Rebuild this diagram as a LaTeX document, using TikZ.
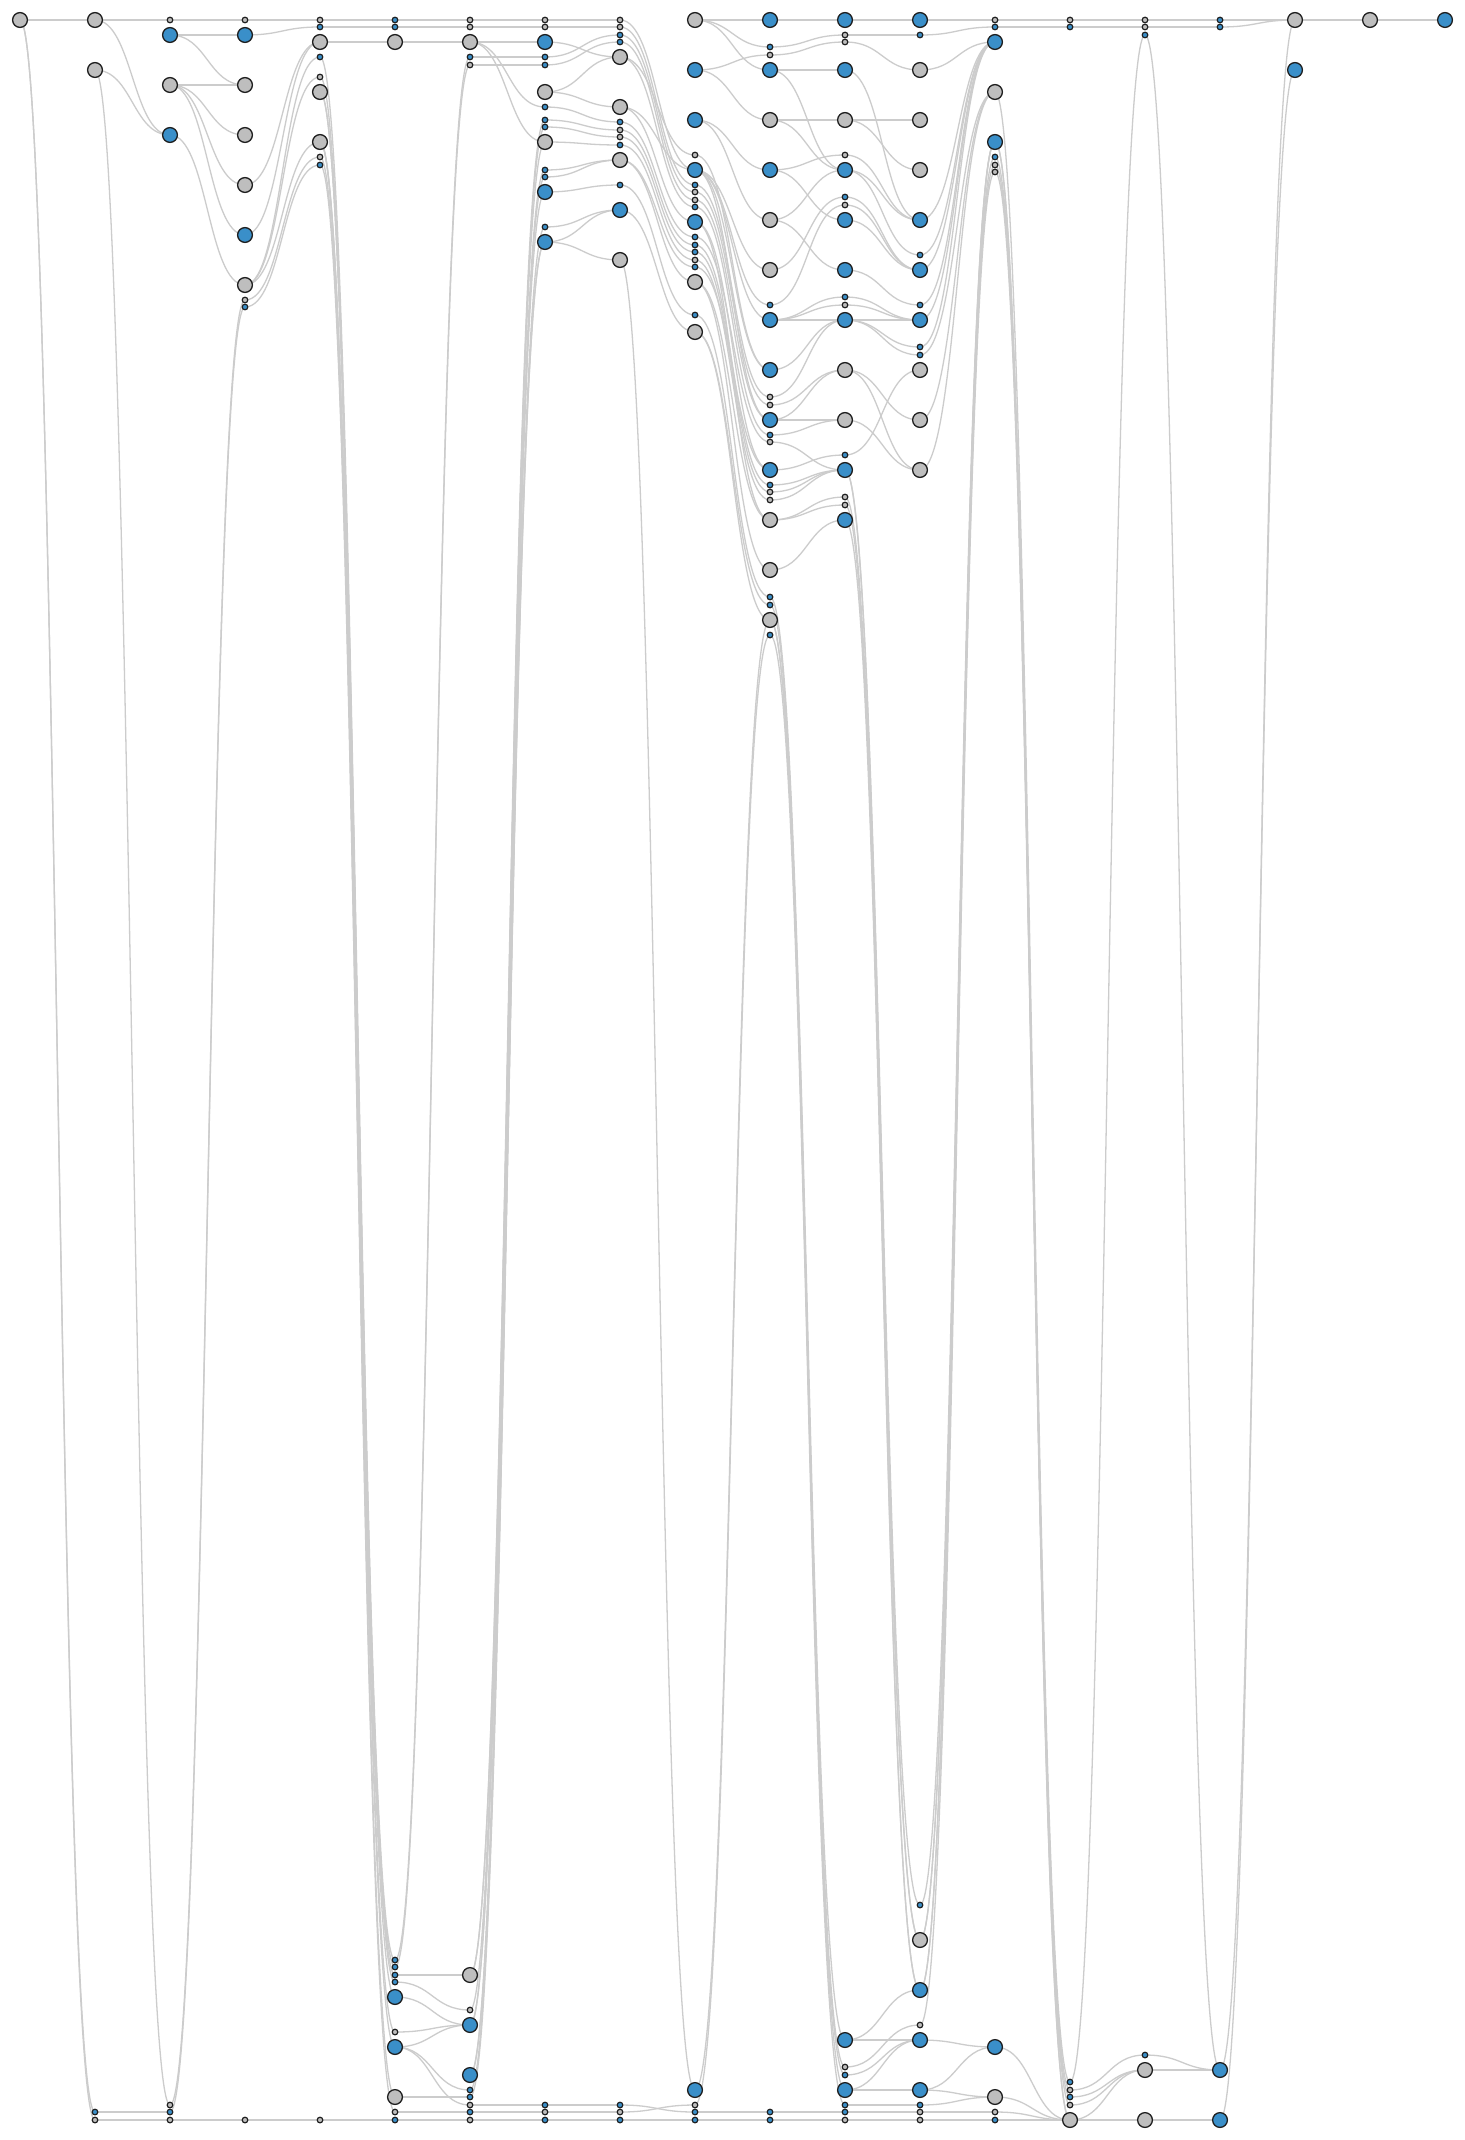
\documentclass[tikz,border=0pt]{standalone}
\usepackage{tikz}
\usetikzlibrary{backgrounds}
\definecolor{nodeblue}{HTML}{3A8FC9}
\definecolor{nodegrey}{HTML}{BEBEBE}
\definecolor{rim}{HTML}{1E1E1E}
\definecolor{linkgrey}{HTML}{CCCCCC}
\tikzset{
  big/.style={circle,draw=rim,line width=0.65pt,minimum size=7.4pt,inner sep=0pt},
  dot/.style={circle,draw=rim,line width=0.6pt,minimum size=2.8pt,inner sep=0pt},
  gn/.style={big,fill=nodegrey},
  bn/.style={big,fill=nodeblue},
  gd/.style={dot,fill=nodegrey},
  bd/.style={dot,fill=nodeblue},
  link/.style={draw=linkgrey,line width=0.65pt},
}

\begin{document}
\begin{tikzpicture}[x=0.5pt,y=-0.5pt]
  \useasboundingbox (0,0) rectangle (1465,2140);
  % layers, one column each, 75 apart
  \foreach \y/\t in {20/gn}
    \node[\t] (n0-\y) at (20,\y) {};
  \foreach \y/\t in {20/gn,70/gn,2112/bd,2120/gd}
    \node[\t] (n1-\y) at (95,\y) {};
  \foreach \y/\t in {20/gd,35/bn,85/gn,135/bn,2105/gd,2112/bd,2120/gd}
    \node[\t] (n2-\y) at (170,\y) {};
  \foreach \y/\t in {20/gd,35/bn,85/gn,135/gn,185/gn,235/bn,285/gn,300/gd,307/bd,2120/gd}
    \node[\t] (n3-\y) at (245,\y) {};
  \foreach \y/\t in {20/gd,27/bd,42/gn,57/bd,77/gd,92/gn,142/gn,157/gd,165/bd,2120/gd}
    \node[\t] (n4-\y) at (320,\y) {};
  \foreach \y/\t in {20/bd,27/bd,42/gn,1960/bd,1967/bd,1975/bd,1982/bd,1997/bn,2032/gd,2047/bn,2097/gn,2112/gd,2120/bd}
    \node[\t] (n5-\y) at (395,\y) {};
  \foreach \y/\t in {20/gd,27/gd,42/gn,57/bd,65/gd,1975/gn,2010/gd,2025/bn,2075/bn,2090/bd,2097/bd,2105/gd,2112/bd,2120/gd}
    \node[\t] (n6-\y) at (470,\y) {};
  \foreach \y/\t in {20/gd,27/gd,42/bn,57/bd,65/bd,92/gn,107/bd,120/bd,127/bd,142/gn,170/bd,177/bd,192/bn,227/bd,242/bn,2105/bd,2112/gd,2120/bd}
    \node[\t] (n7-\y) at (545,\y) {};
  \foreach \y/\t in {20/gd,27/gd,35/bd,42/bd,57/gn,107/gn,122/bd,130/gd,137/gd,145/bd,160/gn,185/bd,210/bn,260/gn,2105/bd,2112/gd,2120/bd}
    \node[\t] (n8-\y) at (620,\y) {};
  \foreach \y/\t in {20/gn,70/bn,120/bn,155/gd,170/bn,185/bd,192/gd,200/gd,207/bd,222/bn,237/bd,245/bd,252/bd,260/gd,267/bd,282/gn,315/bd,332/gn,2090/bn,2105/gd,2112/bd,2120/bd}
    \node[\t] (n9-\y) at (695,\y) {};
  \foreach \y/\t in {20/bn,47/bd,55/gd,70/bn,120/gn,170/bn,220/gn,270/gn,305/bd,320/bn,370/bn,397/gd,405/gd,420/bn,435/bd,442/gd,470/bn,485/bd,492/gd,500/gd,520/gn,570/gn,597/bd,605/bd,620/gn,635/bd,2112/bd,2120/bd}
    \node[\t] (n10-\y) at (770,\y) {};
  \foreach \y/\t in {20/bn,35/gd,42/gd,70/bn,120/gn,155/gd,170/bn,197/bd,205/gd,220/bn,270/bn,297/bd,305/gd,320/bn,370/gn,420/gn,455/bd,470/bn,497/gd,505/gd,520/bn,2040/bn,2067/gd,2075/bd,2090/bn,2105/bd,2112/bd,2120/gd}
    \node[\t] (n11-\y) at (845,\y) {};
  \foreach \y/\t in {20/bn,35/bd,70/gn,120/gn,170/gn,220/bn,255/bd,270/bn,305/bd,320/bn,347/bd,355/bd,370/gn,420/gn,470/gn,1905/bd,1940/gn,1990/bn,2025/gd,2040/bn,2090/bn,2105/bd,2112/gd,2120/gd}
    \node[\t] (n12-\y) at (920,\y) {};
  \foreach \y/\t in {20/gd,27/bd,42/bn,92/gn,142/bn,157/bd,165/gd,172/gd,2047/bn,2097/gn,2112/gd,2120/bd}
    \node[\t] (n13-\y) at (995,\y) {};
  \foreach \y/\t in {20/gd,27/bd,2082/bd,2090/gd,2097/bd,2105/gd,2120/gn}
    \node[\t] (n14-\y) at (1070,\y) {};
  \foreach \y/\t in {20/gd,27/gd,35/bd,2055/bd,2070/gn,2120/gn}
    \node[\t] (n15-\y) at (1145,\y) {};
  \foreach \y/\t in {20/bd,27/bd,2070/bn,2120/bn}
    \node[\t] (n16-\y) at (1220,\y) {};
  \node[gn] (n17-20) at (1295,20) {};
  \node[bn] (n17-70) at (1295,70) {};
  \node[gn] (n18-20) at (1370,20) {};
  \node[bn] (n19-20) at (1445,20) {};

  \begin{scope}[on background layer]
    \fill[white] (0,0) rectangle (1465,2140);
    \foreach \a/\b in {
      0-20/1-20,0-20/1-2112,0-20/1-2120,
      1-20/2-20,1-20/2-135,1-70/2-135,1-70/2-2105,1-2112/2-2112,1-2120/2-2120,
      2-20/3-20,2-35/3-35,2-35/3-85,2-85/3-85,2-85/3-135,2-85/3-185,2-85/3-235,2-135/3-285,
      2-2105/3-300,2-2112/3-307,2-2120/3-2120,
      3-20/4-20,3-35/4-27,3-185/4-42,3-235/4-42,3-285/4-57,3-285/4-77,3-285/4-142,3-300/4-157,
      3-307/4-165,3-2120/4-2120,
      4-20/5-20,4-27/5-27,4-42/5-42,4-57/5-1960,4-77/5-1967,4-92/5-1975,4-92/5-1982,4-142/5-1997,
      4-142/5-2032,4-142/5-2047,4-157/5-2097,4-165/5-2112,4-2120/5-2120,
      5-20/6-20,5-27/6-27,5-42/6-42,5-1960/6-57,5-1967/6-65,5-1975/6-1975,5-1982/6-2010,
      5-1997/6-2025,5-2032/6-2025,5-2047/6-2025,5-2047/6-2090,5-2047/6-2105,5-2097/6-2097,
      5-2112/6-2112,5-2120/6-2120,
      6-20/7-20,6-27/7-27,6-42/7-42,6-42/7-107,6-42/7-142,6-57/7-57,6-65/7-65,6-1975/7-120,
      6-1975/7-142,6-2010/7-127,6-2025/7-170,6-2025/7-192,6-2075/7-177,6-2075/7-242,6-2090/7-227,
      6-2097/7-242,6-2105/7-2105,6-2112/7-2112,6-2120/7-2120,
      7-20/8-20,7-27/8-27,7-57/8-35,7-65/8-42,7-42/8-57,7-92/8-57,7-92/8-107,7-107/8-122,
      7-120/8-130,7-127/8-137,7-142/8-145,7-170/8-160,7-177/8-160,7-192/8-185,7-227/8-210,
      7-242/8-210,7-242/8-260,7-2105/8-2105,7-2112/8-2112,7-2120/8-2120,
      8-20/9-170,8-27/9-185,8-35/9-192,8-42/9-200,8-57/9-155,8-57/9-207,8-107/9-170,8-107/9-222,
      8-122/9-237,8-130/9-245,8-137/9-252,8-145/9-260,8-160/9-267,8-160/9-282,8-185/9-315,
      8-210/9-332,8-260/9-2090,8-2105/9-2112,8-2112/9-2105,8-2120/9-2120,
      9-20/10-20,9-20/10-47,9-20/10-70,9-70/10-55,9-70/10-120,9-120/10-170,9-120/10-220,
      9-170/10-270,9-170/10-305,9-170/10-320,9-170/10-370,9-170/10-420,9-155/10-370,
      9-185/10-397,9-192/10-405,9-200/10-420,9-207/10-435,9-222/10-470,9-222/10-520,
      9-237/10-442,9-245/10-485,9-252/10-492,9-260/10-500,9-267/10-470,9-282/10-520,
      9-282/10-570,9-315/10-597,9-332/10-605,9-332/10-620,9-2090/10-620,9-2105/10-635,
      9-2112/10-2112,9-2120/10-2120,
      10-20/11-20,10-47/11-35,10-55/11-42,10-70/11-70,10-70/11-170,10-120/11-120,10-120/11-170,
      10-170/11-155,10-170/11-220,10-220/11-170,10-220/11-270,10-270/11-197,10-305/11-205,
      10-320/11-297,10-320/11-305,10-320/11-320,10-370/11-320,10-397/11-320,10-405/11-370,
      10-420/11-370,10-420/11-420,10-435/11-420,10-442/11-470,10-470/11-455,10-485/11-470,
      10-492/11-470,10-500/11-470,10-520/11-497,10-520/11-505,10-570/11-520,10-597/11-2040,
      10-605/11-2067,10-620/11-2075,10-620/11-2090,10-635/11-2105,10-2112/11-2112,10-2120/11-2120,
      11-20/12-20,11-35/12-35,11-42/12-70,11-70/12-220,11-120/12-120,11-120/12-170,11-155/12-220,
      11-170/12-220,11-170/12-255,11-197/12-270,11-205/12-270,11-220/12-270,11-270/12-305,
      11-297/12-320,11-305/12-320,11-320/12-320,11-320/12-347,11-320/12-355,11-370/12-420,
      11-370/12-470,11-420/12-470,11-455/12-370,11-470/12-1905,11-470/12-1940,11-497/12-1940,
      11-505/12-1990,11-520/12-1990,11-2040/12-1990,11-2040/12-2040,11-2067/12-2025,
      11-2075/12-2040,11-2090/12-2040,11-2090/12-2090,11-2105/12-2105,11-2112/12-2112,11-2120/12-2120,
      12-20/13-20,12-35/13-27,12-70/13-42,12-220/13-42,12-255/13-42,12-270/13-42,12-305/13-42,
      12-320/13-42,12-347/13-42,12-355/13-92,12-420/13-92,12-470/13-92,12-1905/13-142,
      12-1940/13-142,12-1940/13-157,12-1990/13-142,12-1990/13-165,12-2025/13-172,
      12-2040/13-2047,12-2090/13-2047,12-2090/13-2097,12-2105/13-2097,12-2112/13-2112,12-2120/13-2120,
      13-20/14-20,13-27/14-27,13-92/14-2082,13-142/14-2090,13-142/14-2120,13-157/14-2097,
      13-165/14-2105,13-172/14-2120,13-2047/14-2120,13-2097/14-2120,13-2112/14-2120,13-2120/14-2120,
      14-20/15-20,14-27/15-27,14-2082/15-35,14-2090/15-2055,14-2097/15-2070,14-2105/15-2070,
      14-2120/15-2070,14-2120/15-2120,
      15-20/16-20,15-27/16-27,15-35/16-2070,15-2055/16-2070,15-2070/16-2070,15-2120/16-2120,
      16-20/17-20,16-27/17-20,16-2070/17-70,16-2120/17-20,
      17-20/18-20,18-20/19-20}
      \draw[link] (n\a.center) .. controls +(37.5,0) and +(-37.5,0) .. (n\b.center);
  \end{scope}
\end{tikzpicture}
\end{document}
